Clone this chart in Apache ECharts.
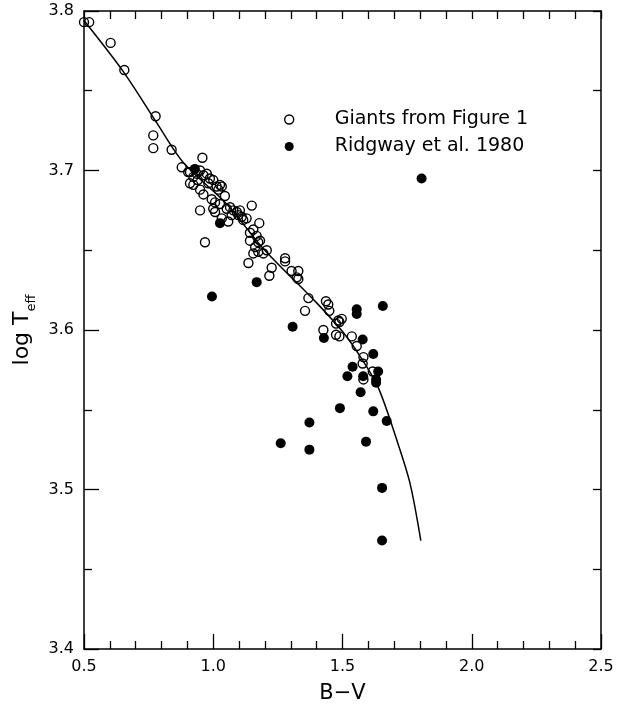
<!DOCTYPE html>
<html><head><meta charset="utf-8">
<script src="https://cdn.jsdelivr.net/npm/echarts@6/dist/echarts.min.js"></script>
<style>html,body{margin:0;padding:0;background:#fff}#c{width:627px;height:709px}</style>
</head><body><div id="c"></div>
<script>
// ---- data ----
const xTickLabels = ['0.5', '1.0', '1.5', '2.0', '2.5'];
const yTickLabels = ['3.4', '3.5', '3.6', '3.7', '3.8'];

const giantsBV = [0.50,0.52,0.603,0.656,0.777,0.768,0.768,0.839,0.878,0.958,0.903,0.910,0.923,0.936,0.949,0.962,0.975,0.987,0.981,1.000,1.013,1.026,0.923,0.949,0.962,0.994,1.007,1.026,1.020,1.033,1.045,1.052,1.065,1.078,1.091,1.103,1.110,1.116,1.129,1.097,1.071,1.058,1.033,1.000,1.007,1.149,1.178,1.142,1.155,1.168,1.181,1.142,1.162,1.174,1.194,1.155,1.207,1.136,1.226,1.217,1.278,1.278,1.303,1.323,0.949,0.968,1.174,1.329,1.329,1.368,1.355,1.436,1.445,1.449,1.484,1.497,1.488,1.475,1.426,1.475,1.488,1.536,1.555,1.581,1.578,1.617,1.581,0.910,0.940];
const giantsLogT = [3.793,3.793,3.780,3.763,3.734,3.722,3.714,3.713,3.702,3.708,3.699,3.699,3.696,3.698,3.700,3.697,3.698,3.695,3.692,3.694,3.690,3.691,3.691,3.688,3.685,3.682,3.680,3.679,3.688,3.690,3.684,3.676,3.677,3.675,3.674,3.675,3.671,3.669,3.670,3.672,3.672,3.668,3.670,3.676,3.674,3.678,3.667,3.661,3.663,3.659,3.656,3.656,3.652,3.649,3.648,3.648,3.650,3.642,3.639,3.634,3.645,3.643,3.637,3.633,3.675,3.655,3.655,3.637,3.632,3.620,3.612,3.618,3.616,3.612,3.606,3.607,3.605,3.604,3.600,3.597,3.596,3.596,3.590,3.583,3.579,3.574,3.569,3.692,3.694];

const ridgwayBV = [0.929,1.026,1.168,0.995,1.307,1.428,1.555,1.555,1.656,1.806,1.578,1.619,1.638,1.539,1.519,1.580,1.630,1.630,1.570,1.490,1.619,1.671,1.372,1.261,1.372,1.591,1.653,1.653];
const ridgwayLogT = [3.701,3.667,3.630,3.621,3.602,3.595,3.613,3.610,3.615,3.695,3.594,3.585,3.574,3.577,3.571,3.571,3.569,3.567,3.561,3.551,3.549,3.543,3.542,3.529,3.525,3.530,3.501,3.468];

const fitBV = [0.500,0.652,0.781,0.884,1.052,1.194,1.400,1.500,1.570,1.638,1.710,1.761,1.803];
const fitLogT = [3.794,3.762,3.730,3.705,3.679,3.651,3.617,3.599,3.583,3.564,3.531,3.504,3.468];

const seriesNames = ['Giants from Figure 1', 'Ridgway et al. 1980'];

// ---- chart ----
const zip = (a, b) => a.map((v, i) => [v, b[i]]);
const FONT = 'DejaVu Sans';
const black = '#000';
const tickStyle = { color: black, width: 1.3 };

const chart = echarts.init(document.getElementById('c'), null, { renderer: 'canvas' });
chart.setOption({
  animation: false,
  backgroundColor: '#fff',
  grid: { left: 84, right: 26, top: 11, bottom: 60 },
  legend: {
    orient: 'vertical', left: 279, top: 105, itemWidth: 9, itemHeight: 9, itemGap: 8,
    data: [
      { name: seriesNames[0], icon: 'circle', itemStyle: { color: 'rgba(0,0,0,0)', borderColor: black, borderWidth: 1.4, opacity: 1 } },
      { name: seriesNames[1], icon: 'circle', itemStyle: { color: black, opacity: 1 } }
    ],
    textStyle: { fontSize: 19, fontFamily: FONT, color: black, lineHeight: 19, padding: [0, 0, 0, 36] }
  },
  xAxis: [
    {
      type: 'value', position: 'bottom', min: 0.5, max: 2.5, interval: 0.5,
      axisLine: { show: true, lineStyle: { color: black, width: 1.5 } },
      axisTick: { show: true, inside: true, length: 15, lineStyle: tickStyle },
      minorTick: { show: true, splitNumber: 5, length: 8, lineStyle: tickStyle },
      splitLine: { show: false },
      axisLabel: { color: black, fontSize: 16, fontFamily: FONT, margin: 10,
        formatter: v => xTickLabels[Math.round((v - 0.5) / 0.5)] },
      name: 'B−V', nameLocation: 'middle', nameGap: 34,
      nameTextStyle: { fontSize: 21, fontFamily: FONT, color: black }
    },
    {
      type: 'value', position: 'top', min: 0.5, max: 2.5, interval: 0.5,
      axisLine: { show: true, lineStyle: { color: black, width: 1.5 } },
      axisTick: { show: true, inside: true, length: 8, lineStyle: tickStyle },
      minorTick: { show: true, splitNumber: 5, length: 8, lineStyle: tickStyle },
      splitLine: { show: false }, axisLabel: { show: false }
    }
  ],
  yAxis: [
    {
      type: 'value', position: 'left', min: 3.4, max: 3.8, interval: 0.1,
      axisLine: { show: true, lineStyle: { color: black, width: 1.5 } },
      axisTick: { show: true, inside: true, length: 15, lineStyle: tickStyle },
      minorTick: { show: true, splitNumber: 2, length: 8, lineStyle: tickStyle },
      splitLine: { show: false },
      axisLabel: { color: black, fontSize: 16, fontFamily: FONT, margin: 10,
        formatter: v => yTickLabels[Math.round((v - 3.4) / 0.1)] },
      name: '{a|log T}{b|eff}', nameLocation: 'middle', nameGap: 40, nameRotate: 90,
      nameTextStyle: {
        color: black, fontFamily: FONT,
        rich: {
          a: { fontSize: 22, lineHeight: 30, fontFamily: FONT, color: black },
          b: { fontSize: 13, lineHeight: 13, verticalAlign: 'bottom', fontFamily: FONT, color: black }
        }
      }
    },
    {
      type: 'value', position: 'right', min: 3.4, max: 3.8, interval: 0.1,
      axisLine: { show: true, lineStyle: { color: black, width: 1.5 } },
      axisTick: { show: true, inside: true, length: 8, lineStyle: tickStyle },
      minorTick: { show: true, splitNumber: 2, length: 8, lineStyle: tickStyle },
      splitLine: { show: false }, axisLabel: { show: false }
    }
  ],
  series: [
    {
      name: 'fit', type: 'line', data: zip(fitBV, fitLogT), showSymbol: false, smooth: 0.3,
      lineStyle: { color: black, width: 1.5 }, silent: true, z: 1
    },
    {
      name: seriesNames[0], type: 'scatter', data: zip(giantsBV, giantsLogT), symbol: 'circle', symbolSize: 9,
      itemStyle: { color: 'rgba(0,0,0,0)', borderColor: black, borderWidth: 1.4, opacity: 1 }, z: 3
    },
    {
      name: seriesNames[1], type: 'scatter', data: zip(ridgwayBV, ridgwayLogT), symbol: 'circle', symbolSize: 10,
      itemStyle: { color: black, opacity: 1 }, z: 2
    }
  ]
});
</script></body></html>
